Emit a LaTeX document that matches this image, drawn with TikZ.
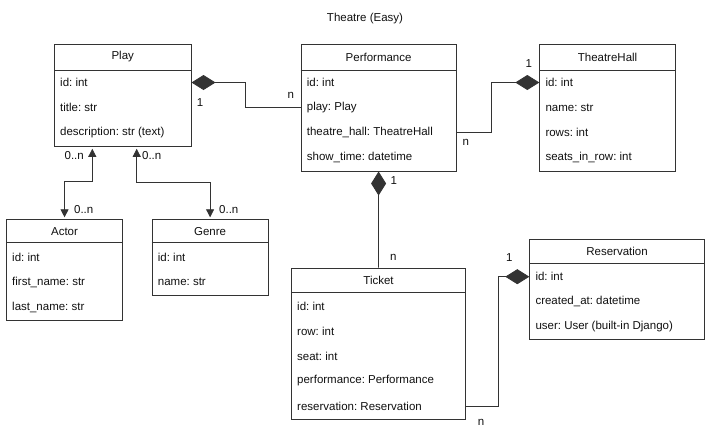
\documentclass[tikz,border=0pt]{standalone}
\usepackage{fontspec}
\setmainfont{Liberation Sans}
\usepackage{xcolor}
\usepackage{tikz}
\usetikzlibrary{calc,arrows.meta}
\frenchspacing
\definecolor{bg}{HTML}{FFFFFF}
\definecolor{text}{HTML}{111111}
\definecolor{edge}{HTML}{333333}
\newcommand{\uml}{\fontsize{11.5}{13}\selectfont}
\tikzset{
  base/.style={draw=edge, line width=0.8pt},
  cls/.style={base, fill=bg, anchor=north west, inner sep=0pt},
  head/.style={text=text, font=\uml, inner sep=0pt},
  row/.style={text=text, font=\uml, anchor=west, inner sep=0pt},
  lab/.style={text=text, font=\uml, inner sep=0pt},
  comp/.style={base, -{Diamond[length=24pt,width=15pt]}},
  nav/.style={base, {Triangle[length=8pt,width=8pt]}-{Triangle[length=8pt,width=8pt]}}
}

\begin{document}
\begin{tikzpicture}[x=1pt,y=-1pt]
  \useasboundingbox[fill=bg] (0,0) rectangle (723,434);
  \node[lab] (title) at (365,19) {Theatre (Easy)};

  % Play
  \node[cls, minimum width=136.7, minimum height=102] (play) at (54,44) {};
  \draw[base] ($(play.north west)+(0,26)$) -- ($(play.north east)+(0,26)$);
  \node[head] (play-h) at ($(play.north)+(0,13)$) {Play};
  \node[row] (play-1) at ($(play.north west)+(6,38.5)$) {id: int};
  \node[row] (play-2) at ($(play.north west)+(6,63.5)$) {title: str};
  \node[row] (play-3) at ($(play.north west)+(6,88.5)$) {description: str (text)};

  % Performance
  \node[cls, minimum width=155, minimum height=126.7] (perf) at (300.7,44) {};
  \draw[base] ($(perf.north west)+(0,26)$) -- ($(perf.north east)+(0,26)$);
  \node[head] (perf-h) at ($(perf.north)+(0,13)$) {Performance};
  \node[row] (perf-1) at ($(perf.north west)+(6,38.5)$) {id: int};
  \node[row] (perf-2) at ($(perf.north west)+(6,63.5)$) {play: Play};
  \node[row] (perf-3) at ($(perf.north west)+(6,88.5)$) {theatre\_hall: TheatreHall};
  \node[row] (perf-4) at ($(perf.north west)+(6,113.5)$) {show\_time: datetime};

  % TheatreHall
  \node[cls, minimum width=135.7, minimum height=126.7] (hall) at (539.3,44) {};
  \draw[base] ($(hall.north west)+(0,26)$) -- ($(hall.north east)+(0,26)$);
  \node[head] (hall-h) at ($(hall.north)+(0,13)$) {TheatreHall};
  \node[row] (hall-1) at ($(hall.north west)+(6,38.5)$) {id: int};
  \node[row] (hall-2) at ($(hall.north west)+(6,63.5)$) {name: str};
  \node[row] (hall-3) at ($(hall.north west)+(6,88.5)$) {rows: int};
  \node[row] (hall-4) at ($(hall.north west)+(6,113.5)$) {seats\_in\_row: int};

  % Actor
  \node[cls, minimum width=116.3, minimum height=100.7] (actor) at (6,219.3) {};
  \draw[base] ($(actor.north west)+(0,23.4)$) -- ($(actor.north east)+(0,23.4)$);
  \node[head] (actor-h) at ($(actor.north)+(0,12.4)$) {Actor};
  \node[row] (actor-1) at ($(actor.north west)+(6,38)$) {id: int};
  \node[row] (actor-2) at ($(actor.north west)+(6,63)$) {first\_name: str};
  \node[row] (actor-3) at ($(actor.north west)+(6,88)$) {last\_name: str};

  % Genre
  \node[cls, minimum width=116, minimum height=75.4] (genre) at (151.7,219.3) {};
  \draw[base] ($(genre.north west)+(0,23.4)$) -- ($(genre.north east)+(0,23.4)$);
  \node[head] (genre-h) at ($(genre.north)+(0,12.4)$) {Genre};
  \node[row] (genre-1) at ($(genre.north west)+(6,38)$) {id: int};
  \node[row] (genre-2) at ($(genre.north west)+(6,63)$) {name: str};

  % Ticket
  \node[cls, minimum width=174.3, minimum height=151.3] (tick) at (291,267.7) {};
  \draw[base] ($(tick.north west)+(0,24.6)$) -- ($(tick.north east)+(0,24.6)$);
  \node[head] (tick-h) at ($(tick.north)+(0,13)$) {Ticket};
  \node[row] (tick-1) at ($(tick.north west)+(6,38.3)$) {id: int};
  \node[row] (tick-2) at ($(tick.north west)+(6,63.3)$) {row: int};
  \node[row] (tick-3) at ($(tick.north west)+(6,88.3)$) {seat: int};
  \node[row] (tick-4) at ($(tick.north west)+(6,113.3)$) {performance: Performance};
  \node[row] (tick-5) at ($(tick.north west)+(6,138.3)$) {reservation: Reservation};

  % Reservation
  \node[cls, minimum width=174.7, minimum height=99.7] (res) at (529.3,239) {};
  \draw[base] ($(res.north west)+(0,24.3)$) -- ($(res.north east)+(0,24.3)$);
  \node[head] (res-h) at ($(res.north)+(0,12.7)$) {Reservation};
  \node[row] (res-1) at ($(res.north west)+(6,37.7)$) {id: int};
  \node[row] (res-2) at ($(res.north west)+(6,62.7)$) {created\_at: datetime};
  \node[row] (res-3) at ($(res.north west)+(6,87.7)$) {user: User (built-in Django)};

  % composition links
  \draw[comp] (perf.west |- perf-2) -- ++(-55,0) |- (play.east |- play-1);
  \node[lab] (pp-1) at (200,103) {1};
  \node[lab] (pp-n) at (290.7,95.7) {n};
  \draw[comp] (perf.east |- perf-3) -- ++(35,0) |- (hall.west |- hall-1);
  \node[lab] (ph-1) at (528.7,63.7) {1};
  \node[lab] (ph-n) at (465.7,142) {n};
  \draw[comp] (tick.north) -- (perf.south);
  \node[lab] (pt-1) at (393.7,180.3) {1};
  \node[lab] (pt-n) at (393.3,257.3) {n};
  \draw[comp] (tick.east |- tick-5) -- ++(32,0) |- (res.west |- res-1);
  \node[lab] (tr-1) at (509.3,257.3) {1};
  \node[lab] (tr-n) at (481,422.3) {n};

  % many to many
  \coordinate (play-a) at ($(play.south west)+(38.3,2)$);
  \coordinate (play-g) at ($(play.south west)+(82.7,2)$);
  \draw[nav] (play-a) -- ++(0,32.3) -| ($(actor.north)+(0,-2)$);
  \node[lab] (pa-1) at (74.2,155.7) {0..n};
  \node[lab] (pa-2) at (83.7,210) {0..n};
  \draw[nav] (play-g) -- ++(0,34) -| ($(genre.north)+(0,-2)$);
  \node[lab] (pg-1) at (151.7,155.7) {0..n};
  \node[lab] (pg-2) at (228.8,210) {0..n};
\end{tikzpicture}
\end{document}
